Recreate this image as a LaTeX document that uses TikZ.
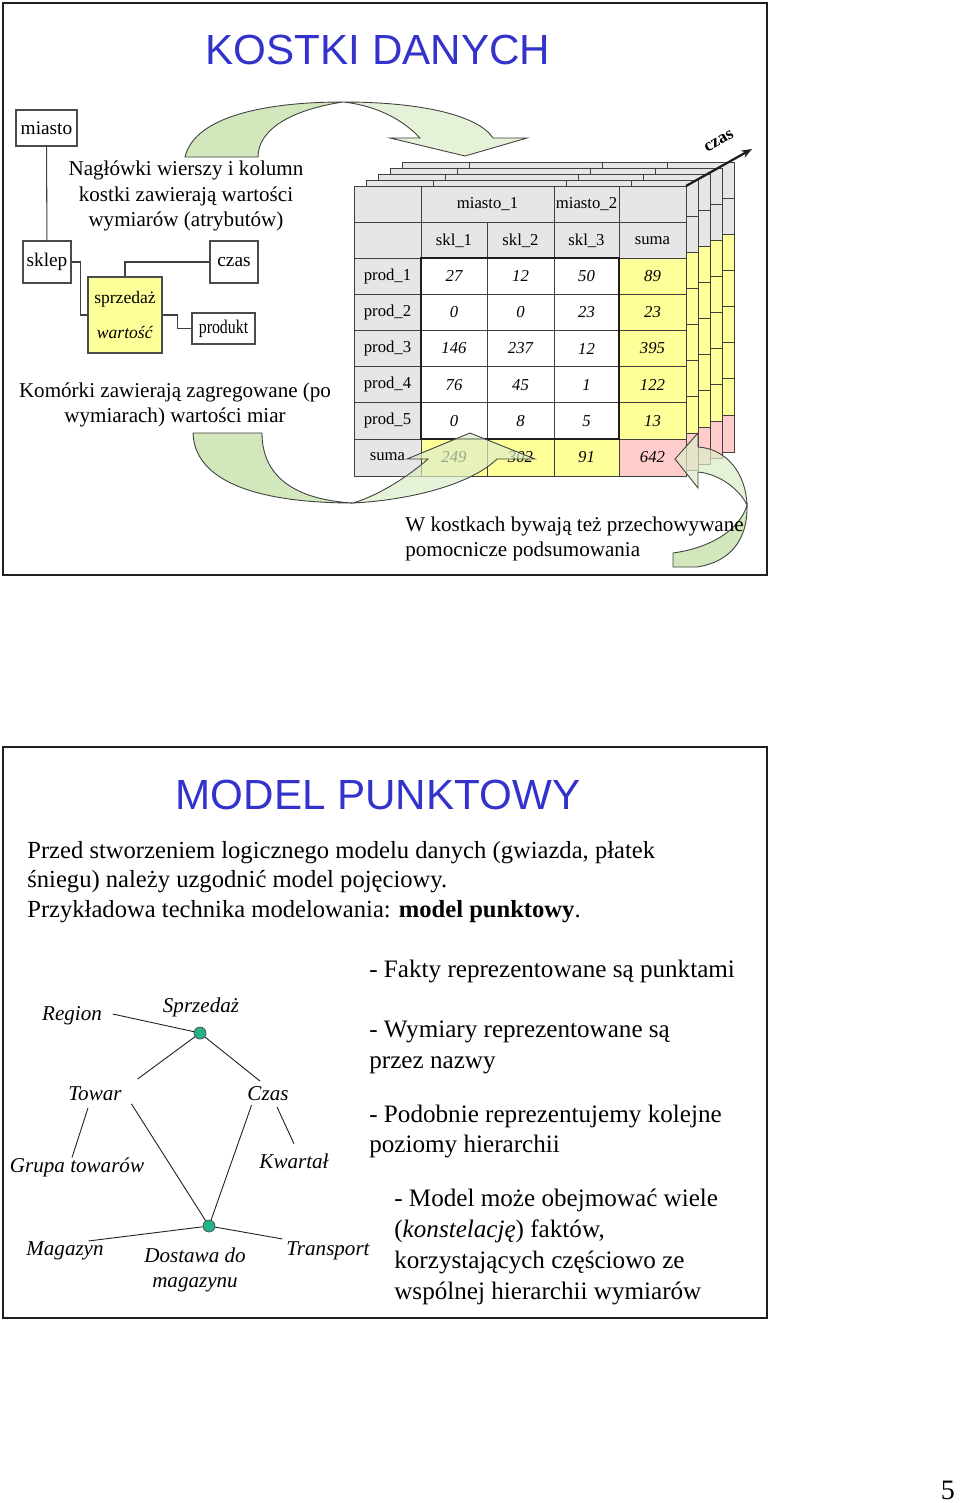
\documentclass[tikz,border=0pt]{standalone}
\usepackage{fontspec}
\setmainfont{Liberation Serif}
\setsansfont{Liberation Sans}
\usetikzlibrary{arrows.meta,positioning,calc}
\definecolor{ink}{HTML}{1E1E1E}
\definecolor{niebieski}{HTML}{3333CC}
\definecolor{szary}{HTML}{E6E6E6}
\definecolor{zolty}{HTML}{FFFF99}
\definecolor{rozowy}{HTML}{FFCCCC}
\definecolor{zielony}{HTML}{BFDD9F}
\definecolor{zielonyj}{HTML}{DCEDC8}
\definecolor{turkus}{HTML}{22B38A}

% jedna warstwa kostki (siatka i wypelnienia)
\newcommand{\warstwa}{%
  \fill[szary] (354,186) rectangle (686,258);
  \fill[szary] (354,258) rectangle (421,476);
  \fill[white] (421,258) rectangle (619,439);
  \fill[zolty] (619,258) rectangle (686,439);
  \fill[zolty] (421,439) rectangle (619,476);
  \fill[rozowy] (619,439) rectangle (686,476);
  \draw[siatka] (354,186) rectangle (686,476);
  \foreach \yy in {222,258,294.2,330.4,366.6,402.8,439} \draw[siatka] (354,\yy) -- (686,\yy);
  \foreach \xx in {421,554,619} \draw[siatka] (\xx,186) -- (\xx,476);
  \draw[siatka] (487,222) -- (487,476);
}

\begin{document}
\begin{tikzpicture}[x=0.02cm, y=-0.02cm,
  ramka/.style={draw=ink, line width=1.2pt},
  tytul/.style={font=\sffamily\fontsize{24}{28}\selectfont, text=niebieski, inner sep=0pt},
  tekst/.style={font=\fontsize{12}{14.5}\selectfont, align=center, inner sep=0pt},
  pole/.style={draw=ink!80, line width=0.6pt, fill=white, font=\fontsize{11}{13}\selectfont, inner sep=0pt},
  siatka/.style={draw=ink!85, line width=0.5pt},
  gruba/.style={draw=ink, line width=1.6pt},
  kom/.style={font=\fontsize{9.5}{11}\selectfont, inner sep=0pt},
  liczba/.style={font=\fontsize{9.5}{11}\selectfont\itshape, inner sep=0pt},
  pol/.style={draw=ink!85, line width=0.6pt},
  os/.style={draw=ink, line width=1.3pt, -{Stealth[length=6pt]}},
  strz/.style={draw=ink!85, line width=0.5pt, fill=zielony, fill opacity=0.7},
  strzj/.style={strz, fill=zielonyj},
  akapit/.style={font=\fontsize{14}{17}\selectfont, align=left, inner sep=0pt},
  lista/.style={font=\fontsize{14.3}{17.5}\selectfont, align=left, anchor=west, inner sep=0pt},
  etyk/.style={font=\fontsize{12}{14.7}\selectfont\itshape, align=center, inner sep=2pt},
  punkt/.style={circle, draw=ink!80, fill=turkus, minimum size=0.24cm, inner sep=0pt},
  linia/.style={draw=ink, line width=0.5pt}]
\path[use as bounding box, fill=white] (0,0) rectangle (960,1503);

% ---------- KOSTKI DANYCH ----------
\node[tytul] (t1) at (378,50) {KOSTKI DANYCH};

\node[pole, minimum width=1.22cm, minimum height=0.72cm] (miasto) at (46.5,128) {miasto};
\node[pole, minimum width=0.96cm, minimum height=0.84cm] (sklep) at (47,262) {sklep};
\node[pole, minimum width=0.96cm, minimum height=0.84cm] (czas) at (234,262) {czas};
\node[pole, fill=zolty, minimum width=1.48cm, minimum height=1.52cm, align=center,
      font=\fontsize{10}{20}\selectfont] (sprzedaz) at (125,315) {sprzedaż\\\textit{wartość}};
\node[pole, minimum width=1.26cm, minimum height=0.62cm] (produkt) at (223.5,328.5) {\scalebox{0.82}[1]{produkt}};
\draw[pol] (miasto) -- (sklep);
\draw[pol] (sklep.east) -- ++(9,0) |- (sprzedaz.west);
\draw[pol] (czas.west) -| (sprzedaz.north);
\draw[pol] (sprzedaz.east) -- ++(15,0) |- (produkt.west);

\node[tekst] (nagl) at (186,196) {Nagłówki wierszy i kolumn\\kostki zawierają wartości\\wymiarów (atrybutów)};
\node[tekst] (komorki) at (175,405) {Komórki zawierają zagregowane (po\\wymiarach) wartości miar};

% kostka: cztery warstwy w tle i przod
\foreach \k in {4,3,2,1}{
  \begin{scope}[shift={(12*\k,-6*\k)}]
    \warstwa
  \end{scope}
}
\warstwa
\draw[gruba] (421,258) rectangle (619,439);

\node[kom] (m1) at (487.5,204.5) {miasto\_1};
\node[kom] (m2) at (586.5,204.5) {miasto\_2};
\node[kom] (s1) at (454,240.5) {skl\_1};
\node[kom] (s2) at (520.5,240.5) {skl\_2};
\node[kom] (s3) at (586.5,240.5) {skl\_3};
\node[kom] (s4) at (652.5,240.5) {suma};
\foreach \n/\a/\b/\c/\s [count=\i] in {prod\_1/27/12/50/89, prod\_2/0/0/23/23,
    prod\_3/146/237/12/395, prod\_4/76/45/1/122, prod\_5/0/8/5/13, suma/249/302/91/642}{
  \pgfmathsetmacro\yy{276.1+36.2*(\i-1)}
  \node[kom] (w\i) at (387.5,\yy) {\n};
  \node[liczba] (w\i-a) at (454,\yy) {\a};
  \node[liczba] (w\i-b) at (520.5,\yy) {\b};
  \node[liczba] (w\i-c) at (586.5,\yy) {\c};
  \node[liczba] (w\i-s) at (652.5,\yy) {\s};
}

\coordinate (rog) at (686,186);
\coordinate (czaskon) at (752,149);
\draw[os] (rog) -- (czaskon);
\node[font=\bfseries\fontsize{10}{12}\selectfont, rotate=29, inner sep=0pt] (czaslbl) at (719,141) {czas};

% strzalki
\fill[strz] (185,157) .. controls (195,115) and (270,102) .. (343,102)
  .. controls (290,110) and (258,130) .. (258,157) -- cycle;
\fill[strzj] (343,102) .. controls (420,102) and (478,115) .. (493,138) -- (527,138) -- (465,156)
  -- (390,138) -- (420,138) .. controls (405,122) and (380,106) .. (343,102) -- cycle;

\fill[strz] (193,433) .. controls (195,490) and (280,503) .. (353,503)
  .. controls (300,500) and (262,480) .. (262,433) -- cycle;
\fill[strzj] (353,503) .. controls (410,500) and (470,485) .. (497,459) -- (535,459) -- (470,433)
  -- (407,459) -- (428,459) .. controls (410,475) and (380,495) .. (353,503) -- cycle;

\fill[strzj] (698,447) .. controls (728,449) and (746,475) .. (747,505)
  .. controls (740,490) and (720,474) .. (698,472) -- (698,488) -- (675,459) -- (698,433) -- cycle;
\fill[strz] (747,505) .. controls (748,540) and (730,562) .. (697,567) -- (673,567) -- (673,553)
  .. controls (710,548) and (740,530) .. (747,505) -- cycle;

\node[tekst, align=left, anchor=west] (podsum) at (405,539) {W kostkach bywają też przechowywane\\pomocnicze podsumowania};

\draw[ramka] (3,3) rectangle (767,575);

% ---------- MODEL PUNKTOWY ----------
\node[tytul] (t2) at (378,795) {MODEL PUNKTOWY};
\node[akapit, anchor=west] (wstep) at (27,882) {Przed stworzeniem logicznego modelu danych (gwiazda, płatek\\śniegu) należy uzgodnić model pojęciowy.\\Przykładowa technika modelowania: \textbf{model punktowy}.};

\node[etyk] (region) at (72,1016) {Region};
\node[etyk] (sprz) at (201,1007) {Sprzedaż};
\node[punkt] (f1) at (200,1033) {};
\node[etyk] (towar) at (95,1094) {Towar};
\node[etyk] (czas2) at (268,1094) {Czas};
\node[etyk] (grupa) at (77,1167) {Grupa towarów};
\node[etyk] (kwartal) at (294,1161) {Kwartał};
\node[punkt] (f2) at (209,1226) {};
\node[etyk] (magazyn) at (65,1251) {Magazyn};
\node[etyk] (dostawa) at (195,1270) {Dostawa do\\magazynu};
\node[etyk] (transport) at (328,1251) {Transport};

\draw[linia] ($(region.east)+(7,-2)$) -- (f1);
\draw[linia] (f1) -- ($(towar.north east)+(12,-4)$);
\draw[linia] (f1) -- ($(czas2.north)+(-8,-2)$);
\draw[linia] ($(towar.south east)+(6,-1)$) -- (f2);
\draw[linia] ($(czas2.south west)+(8,0)$) -- (f2);
\draw[linia] ($(towar.south)+(-7,3)$) -- ($(grupa.north)+(-5,4)$);
\draw[linia] ($(czas2.south)+(9,2)$) -- ($(kwartal.north)+(0,-6)$);
\draw[linia] (f2) -- ($(magazyn.north east)+(-19,3)$);
\draw[linia] (f2) -- ($(transport.north west)+(0,1)$);

\node[lista] (p1) at (369,971) {- Fakty reprezentowane są punktami};
\node[lista] (p2) at (369,1047.5) {- Wymiary reprezentowane są\\przez nazwy};
\node[lista] (p3) at (369,1131.5) {- Podobnie reprezentujemy kolejne\\poziomy hierarchii};
\node[lista] (p4) at (394,1247) {- Model może obejmować wiele\\(\textit{konstelację}) faktów,\\korzystających częściowo ze\\wspólnej hierarchii wymiarów};

\draw[ramka] (3,747) rectangle (767,1318);

\node[font=\fontsize{16}{18}\selectfont, inner sep=0pt] (nr) at (948,1490) {5};
\end{tikzpicture}
\end{document}
